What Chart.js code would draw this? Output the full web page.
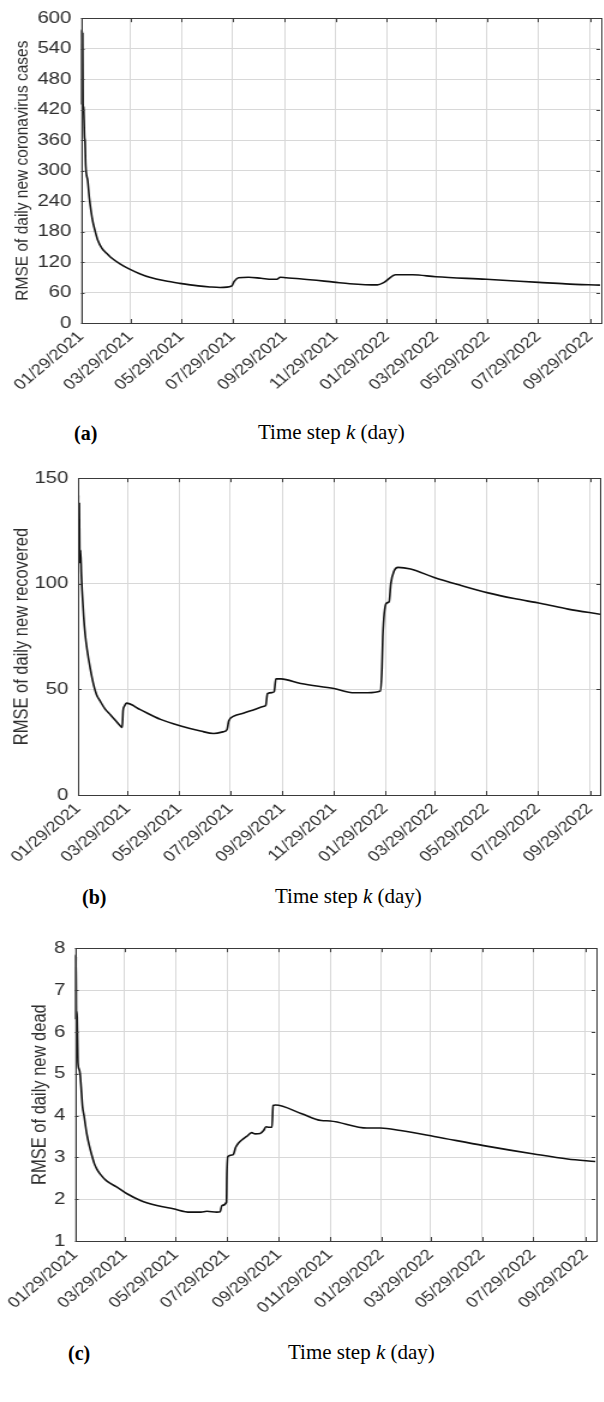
<!DOCTYPE html>
<html>
<head>
<meta charset="utf-8">
<script src="https://cdn.jsdelivr.net/npm/chart.js@4.4.1/dist/chart.umd.min.js"></script>
<style>
  body { margin: 0; background: #fff; width: 604px; height: 1402px; position: relative; overflow: hidden; }
  canvas.panel { position: absolute; left: 0; transform-origin: 0 0; transform: scaleX(1.2); }
  .tag { position: absolute; font-family: "Liberation Serif", "Times New Roman", serif; font-size: 20px; font-weight: bold; line-height: 1; color: #000; }
  .xt { position: absolute; font-family: "Liberation Serif", "Times New Roman", serif; font-size: 21px; line-height: 1; color: #000; white-space: nowrap; }
</style>
</head>
<body>
<canvas id="chartA" class="panel" width="503" height="410" style="top:0px;width:503px;height:410px"></canvas>
<div class="tag" style="left:74px;top:423px">(a)</div>
<div class="xt" style="left:258px;top:422px">Time step <i>k</i> (day)</div>

<canvas id="chartB" class="panel" width="503" height="420" style="top:460px;width:503px;height:420px"></canvas>
<div class="tag" style="left:82px;top:887px">(b)</div>
<div class="xt" style="left:275px;top:886px">Time step <i>k</i> (day)</div>

<canvas id="chartC" class="panel" width="503" height="410" style="top:930px;width:503px;height:410px"></canvas>
<div class="tag" style="left:68px;top:1343px">(c)</div>
<div class="xt" style="left:288px;top:1342px">Time step <i>k</i> (day)</div>

<script>
// x axis: days since 01/29/2021, ticks every two months
const tickDays = [0, 59, 120, 181, 243, 304, 365, 424, 485, 546, 608];
const tickLabels = ['01/29/2021', '03/29/2021', '05/29/2021', '07/29/2021', '09/29/2021', '11/29/2021',
                    '01/29/2022', '03/29/2022', '05/29/2022', '07/29/2022', '09/29/2022'];
const tickLabelsC = ['01/29/2021', '03/29/2021', '05/29/2021', '07/29/2021', '09/29/2021', '011/29/2021',
                     '01/29/2022', '03/29/2022', '05/29/2022', '07/29/2022', '09/29/2022'];
const lastDay = 620;

// (a) RMSE of daily new coronavirus cases
const casesDays = [0, 0.4, 0.8, 1.2, 1.6, 2, 2.4, 3, 3.6, 4.2, 4.8, 5.6, 8, 10, 12, 14, 17, 20, 25, 30, 35, 47, 58, 70, 82,
                   100, 118, 140, 154, 166, 180, 183, 188, 200, 215, 228, 234, 238, 245, 261, 302, 321, 354, 362, 376,
                   396, 424, 484, 547, 579, 620];
const casesRmse = [430, 577, 440, 575, 435, 570, 430, 425, 400, 365, 358, 310, 280, 245, 220, 200, 180, 163, 147, 138, 130, 116, 106, 97, 90,
                   83, 78, 73, 71, 70, 73, 82, 89, 90, 88, 86, 86, 90, 89, 87, 80.5, 77.4, 75, 80, 95,
                   95, 91, 86, 80, 77, 74.5];

// (b) RMSE of daily new recovered
const recDays = [0, 0.5, 1, 1.5, 2, 2.5, 3, 4, 4.8, 6.7, 8.5, 10.7, 14.6, 18.6, 22, 26.5, 32, 38.4, 44, 50.3, 52.5, 53.5, 55, 57.5,
                 74, 98, 122, 145.5, 161, 173, 177, 179, 185, 197, 209, 221, 223, 225, 231, 233, 235, 241,
                 264.5, 304, 328, 344, 359, 361, 362, 366, 369.5, 371.5, 375.5, 380, 395, 423, 455, 487, 518, 550, 582, 620];
const recRmse = [110, 142, 112, 138, 115, 110, 116, 104, 97, 84.5, 76, 69, 59.7, 52, 47.5, 44.3, 40.8, 38, 35.5, 32.7, 32, 40, 42, 43.5,
                 40.4, 35.8, 32.7, 30.3, 29.1, 30, 31, 35, 37.3, 38.8, 40.4, 42, 42.5, 48, 48.5, 49, 55, 55,
                 52.8, 50.4, 48.4, 48.4, 49.2, 60, 75, 90.7, 91.5, 100, 106.2, 107.8, 107, 103, 99.2, 95.7, 93, 90.7, 88, 85.6];

// (c) RMSE of daily new dead
const deadDays = [0, 0.4, 0.8, 1.2, 1.6, 2, 2.5, 3, 3.5, 5, 6, 7, 9, 10.7, 14, 17, 20, 23, 26, 30, 38, 50, 62, 78, 97.5, 117, 137,
                  150, 157, 169, 173, 175, 180.5, 181, 182.2, 188.3, 191.5, 194.4, 198.4, 204.5, 210.6, 214.6, 220.7,
                  224.7, 227.6, 230.8, 234.8, 236, 238.9, 269.3, 293.5, 304, 348, 364, 388, 428, 487, 547, 587, 620];
const deadRmse = [6.3, 7.84, 6.5, 7.8, 6.4, 6.5, 6.35, 5.8, 5.26, 5.1, 5.0, 4.75, 4.2, 4.0, 3.56, 3.28, 3.05, 2.85, 2.72, 2.6, 2.43, 2.29, 2.13,
                  1.97, 1.85, 1.77, 1.69, 1.69, 1.71, 1.69, 1.70, 1.85, 1.93, 2.6, 3.02, 3.06, 3.24, 3.33, 3.41, 3.5, 3.59,
                  3.56, 3.57, 3.64, 3.73, 3.72, 3.72, 4.24, 4.25, 4.05, 3.88, 3.87, 3.70, 3.70, 3.64, 3.5, 3.28, 3.08, 2.96, 2.9];

const sansFamily = 'Liberation Sans, Arial, sans-serif';

// MATLAB-like box with inward tick marks
const framePlugin = {
    id: 'frame',
    afterDraw(chart) {
        const { ctx, chartArea: a, scales: { x, y } } = chart;
        ctx.save();
        ctx.strokeStyle = '#3a3a3a';
        ctx.lineWidth = 1;
        ctx.strokeRect(Math.round(a.left) + 0.5, Math.round(a.top) + 0.5, Math.round(a.right - a.left), Math.round(a.bottom - a.top));
        ctx.beginPath();
        x.ticks.forEach(t => {
            const px = Math.round(x.getPixelForValue(t.value)) + 0.5;
            ctx.moveTo(px, a.bottom); ctx.lineTo(px, a.bottom - 4);
            ctx.moveTo(px, a.top); ctx.lineTo(px, a.top + 4);
        });
        y.ticks.forEach(t => {
            const py = Math.round(y.getPixelForValue(t.value)) + 0.5;
            ctx.moveTo(a.left, py); ctx.lineTo(a.left + 3, py);
            ctx.moveTo(a.right, py); ctx.lineTo(a.right - 3, py);
        });
        ctx.stroke();
        ctx.restore();
    }
};

function makeChart(id, days, vals, yMin, yMax, yStep, yTitle, labels, box) {
    const canvas = document.getElementById(id);
    const H = canvas.height, W = canvas.width;
    return new Chart(canvas.getContext('2d'), {
        type: 'line',
        data: {
            datasets: [{
                data: days.map((d, i) => ({ x: d, y: vals[i] })),
                borderColor: '#111',
                borderWidth: 1.6,
                pointRadius: 0,
                cubicInterpolationMode: 'monotone',
                fill: false
            }]
        },
        options: {
            responsive: false,
            animation: false,
            layout: { padding: { left: 0, right: W - box.right, top: box.top, bottom: 0 } },
            plugins: { legend: { display: false }, tooltip: { enabled: false } },
            scales: {
                x: {
                    type: 'linear',
                    min: 0,
                    max: lastDay,
                    afterBuildTicks: s => { s.ticks = tickDays.map(v => ({ value: v })); },
                    afterFit: s => { s.height = H - box.bottom; s.paddingLeft = 0; s.paddingRight = 0; },
                    ticks: {
                        autoSkip: false,
                        minRotation: 45,
                        maxRotation: 45,
                        padding: 5,
                        color: '#2e2e2e',
                        font: { family: sansFamily, size: 15 },
                        callback: (v, i) => labels[i]
                    },
                    grid: { color: '#d8d8d8', drawTicks: false },
                    border: { display: false }
                },
                y: {
                    min: yMin,
                    max: yMax,
                    afterFit: s => { s.width = box.left; },
                    ticks: { stepSize: yStep, padding: 8, color: '#2e2e2e', font: { family: sansFamily, size: 17 } },
                    grid: { color: '#d8d8d8', drawTicks: false },
                    border: { display: false },
                    title: {
                        display: true,
                        text: yTitle,
                        color: '#2e2e2e',
                        font: { family: sansFamily, size: box.titleSize },
                        padding: { top: box.titlePad, bottom: 0 }
                    }
                }
            }
        },
        plugins: [framePlugin]
    });
}

makeChart('chartA', casesDays, casesRmse, 0, 600, 60, 'RMSE of daily new coronavirus cases', tickLabels,
    { left: 67.5, right: 500, top: 16, bottom: 323, titlePad: 9.5, titleSize: 15.5 });
makeChart('chartB', recDays, recRmse, 0, 150, 50, 'RMSE of daily new recovered', tickLabels,
    { left: 65, right: 500, top: 13, bottom: 335, titlePad: 9, titleSize: 16.5 });
makeChart('chartC', deadDays, deadRmse, 1, 8, 1, 'RMSE of daily new dead', tickLabelsC,
    { left: 62.5, right: 496, top: 17, bottom: 311, titlePad: 24, titleSize: 16.5 });
</script>
</body>
</html>
